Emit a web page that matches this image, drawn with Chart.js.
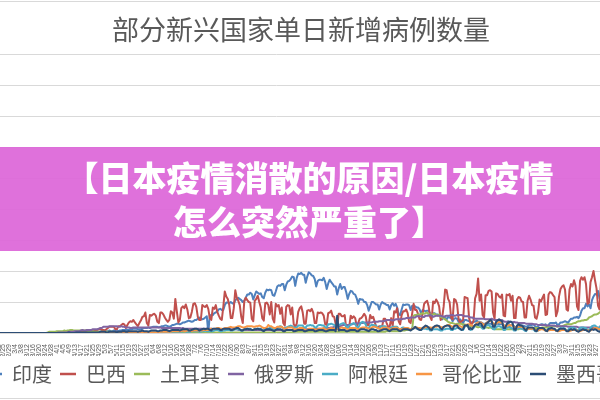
<!DOCTYPE html>
<html><head><meta charset="utf-8">
<script src="https://cdn.jsdelivr.net/npm/chart.js@4/dist/chart.umd.min.js"></script>
<style>
html,body{margin:0;padding:0;width:600px;height:400px;overflow:hidden;background:#fff;}
#wrap{position:absolute;left:-51px;top:0;width:704px;height:400px;}
#banner{position:absolute;left:0;top:147px;width:600px;height:104px;background:rgba(221,104,217,0.94);color:#fff;
 font-family:"Noto Sans CJK SC";font-weight:900;font-size:34px;line-height:44px;text-align:center;box-sizing:border-box;padding:8px 0 0 18px;white-space:nowrap;}
.frame{position:absolute;left:0;width:600px;height:1px;background:#d9d9d9;}
</style></head><body>
<div class="frame" style="top:1px"></div>
<div id="wrap"><canvas id="c" width="704" height="400"></canvas></div>
<div id="banner">【日本疫情消散的原因/日本疫情<br>怎么突然严重了】</div>
<div class="frame" style="top:398px"></div>
<script>
// Daily new cases, thousands. Index 0 = 2020-01-22, one value per day to 2021-03-30.
const titleText = '部分新兴国家单日新增病例数量';
const startDate = '2020-01-22';
const seriesNames = ['印度','巴西','土耳其','俄罗斯','阿根廷','哥伦比亚','墨西哥'];
const seriesColors = ['#4F81BD','#C0504D','#9BBB59','#8064A2','#4BACC6','#F79646','#2C4D75'];

const india = [
0,0,0,0,0,0,0,0, 0,0,0,0,0,0,0,0, 0,0,0,0,0,0,0,0, 0,0,0,0,0,0,0,0,
0,0,0,0,0,0,0, 0,0,0,0,0,0,0, 0,0,0,0,0,0,0, 0,0,0,0,0,0,0, 0,0,0,0,0,0,0,
0,0,0,0,1,1,1, 1,1,1,1,1,1,1, 1,1,1,1,1,1,2, 2,1,2,1,2,2,2, 2,2,2,2,2,3,3,
3,3,3,4,3,3,4, 4,4,3,4,4,5,5, 5,5,5,6,6,7,7, 7,6,6,6,7,8,8, 8,9,8,9,10,10,10,
10,9,10,11,11,12,12, 11,10,11,13,13,14,15, 15,14,15,17,17,18,19, 20,19,18,19,21,21,23,
25,23,22,23,25,27,0, 29,28,29,32,33,35,38, 39,37,37,45,49,49,48, 50,48,47,53,55,57,55,
53,50,52,57,62,62,65, 63,54,61,67,65,63,64, 58,56,65,70,69,70,69, 61,60,67,75,77,76,79,
79,69,78,83,84,87,91, 90,76,89,96,95,97,94, 94,81,91,98,96,93,92, 87,75,84,86,86,85,89,
82,71,80,86,82,79,75, 75,62,72,79,71,74,74, 66,55,63,68,67,63,62, 56,47,55,54,54,50,50,
45,36,43,50,50,48,46, 46,38,46,50,48,47,45, 45,38,45,48,44,47,41, 30,29,38,46,45,46,46,
45,37,44,44,43,41,41, 38,31,37,36,35,36,36, 32,27,32,32,30,30,28, 27,22,26,24,22,26,25,
24,19,23,24,23,18,22, 19,16,21,21,20,19,18, 16,18,18,20,18,18,17, 16,12,16,17,15,15,15,
13,10,14,15,14,14,14, 13,9,12,19,11,13,13, 11,9,11,12,13,12,12, 11,10,11,13,13,13,14,
11,9,11,13,14,14,13, 14,10,13,16,16,16,16, 17,12,14,17,17,18,19, 18,16,20,23,23,25,25,
26,24,28,36,40,40,47, 43,46,40,53,59,63,62, 68,56,53];

const brazil = [
0,0,0,0,0,0,0,0, 0,0,0,0,0,0,0,0, 0,0,0,0,0,0,0,0, 0,0,0,0,0,0,0,0,
0,0,0,0,0,0,0, 0,0,0,0,0,0,0, 0,0,0,0,0,0,0, 0,0,0,0,0,0,0, 0,0,0,0,0,1,0,
0,0,1,1,1,1,1, 1,1,1,2,2,1,1, 1,1,2,2,3,3,3, 1,1,3,3,3,4,4, 3,4,5,6,7,5,5,
4,6,8,10,10,10,10, 6,6,11,11,13,15,14, 8,13,17,19,18,21,17, 14,11,16,20,26,27,33, 16,12,29,28,30,31,28,
18,16,33,33,30,25,21, 18,21,35,33,23,55,35, 17,21,40,43,40,46,38, 24,25,34,47,48,42,26,
21,21,45,43,42,45,39, 24,21,41,39,45,34,28, 23,21,42,67,59,55,45, 24,24,40,69,57,52,45,
26,16,51,57,53,50,49, 23,19,52,55,60,50,41, 24,20,48,49,45,30,50, 23,17,47,43,45,31,41,
16,12,42,45,44,30,41, 14,10,15,34,40,43,33, 15,15,36,37,35,39,33, 16,16,33,32,33,32,28,
14,13,32,33,36,27,26, 14,10,31,31,27,27,29, 8,9,10,28,24,27,24, 11,16,23,24,27,31,27,
13,13,29,24,26,18,10, 9,11,11,11,23,23,16, 10,10,24,11,35,33,40, 19,14,29,35,35,38,32,
18,16,31,47,37,37,30, 22,21,31,47,50,52,43, 26,21,51,48,54,50,43, 21,25,42,70,69,55,50,
25,22,55,53,46,22,17, 19,21,58,57,56,24,15, 15,20,56,63,88,52,62, 29,25,61,61,68,69,67,
33,23,64,63,59,57,62, 28,27,62,61,63,52,60, 24,24,54,58,57,51,50, 25,25,52,60,54,45,44,
25,23,33,54,51,57,62, 29,30,62,66,65,61,58, 27,35,59,71,75,77,70, 38,36,70,79,75,85,76,
43,37,84,90,86,90,79, 47,49,82,90,100,85,72, 44,38,84];

const turkey = [
0,0,0,0,0,0,0,0, 0,0,0,0,0,0,0,0, 0,0,0,0,0,0,0,0, 0,0,0,0,0,0,0,0,
0,0,0,0,0,0,0, 0,0,0,0,0,0,0, 0,0,0,0,0,0,0, 0,0,0,0,0,0,0, 0,0,0,0,1,2,2,
2,2,2,3,3,3,3, 3,4,3,4,4,5,5, 4,4,4,4,4,4,4, 4,4,4,3,3,3,3, 2,2,2,2,2,2,2,
2,2,2,2,2,2,1, 1,1,1,1,1,1,1, 1,1,1,1,1,1,1, 1,1,1,1,1,1,1, 1,1,1,1,1,1,1,
1,1,1,1,1,2,2, 2,2,1,1,1,1,1, 1,1,1,1,1,1,1, 1,1,1,1,1,1,1,
1,1,1,1,1,1,1, 1,1,1,1,1,1,1, 1,1,1,1,1,1,1, 1,1,1,1,1,1,1,
1,1,1,1,1,1,1, 1,1,1,1,1,1,1, 1,1,1,1,1,1,1, 1,1,1,1,1,1,1,
1,1,1,1,1,1,1, 2,2,2,2,2,2,2, 2,2,2,2,2,2,2, 2,2,2,2,2,2,2,
2,2,2,2,2,2,2, 2,2,2,2,2,2,2, 2,2,2,2,2,2,2, 2,2,2,2,2,2,2,
2,2,2,2,2,2,2, 2,2,2,2,2,2,3, 3,3,3,3,3,3,3, 3,3,4,4,4,5,5,
5,5,6,28,29,29,30, 30,31,32,31,32,33,30, 30,29,30,31,29,28,30, 26,25,24,22,20,18,17,
16,16,15,14,15,15,15, 15,13,14,13,11,11,11, 11,11,11,10,9,10,9, 9,9,9,9,8,9,8,
7,6,6,6,6,6,6, 6,6,6,6,6,6,6, 6,6,6,6,7,7,7, 7,7,7,8,8,8,8,
8,8,8,8,8,9,9, 9,9,10,11,11,11,11, 11,10,11,11,11,12,13, 14,14,14,14,15,16,16,
18,19,19,20,20,21,21, 22,25,26,27,29,30,30, 31,33,35];

const russia = [
0,0,0,0,0,0,0,0, 0,0,0,0,0,0,0,0, 0,0,0,0,0,0,0,0, 0,0,0,0,0,0,0,0,
0,0,0,0,0,0,0, 0,0,0,0,0,0,0, 0,0,0,0,0,0,0, 0,0,0,0,0,0,0, 0,0,0,0,0,0,0,
0,0,0,0,1,1,1, 1,1,1,1,2,2,2, 2,3,3,3,3,4,5, 4,4,5,5,5,5,6, 6,6,6,7,8,8,10,
10,10,10,11,11,11,11, 11,11,10,10,11,10,10, 9,9,9,8,8,9,9, 9,9,9,9,9,9,9, 9,9,9,9,9,9,9,
9,9,9,8,8,8,8, 8,8,8,8,8,8,8, 8,8,7,8,7,7,7, 7,7,7,7,7,7,7,
7,7,7,7,7,7,7, 7,7,6,6,6,6,6, 6,6,6,6,6,6,6, 6,6,6,6,6,5,5,
5,5,5,5,5,5,5, 5,5,5,5,5,5,5, 5,5,5,5,5,5,5, 5,5,5,5,5,5,5,
5,5,5,5,5,5,5, 5,5,5,5,5,5,6, 6,6,6,6,6,6,6, 6,7,7,7,7,7,7,
8,8,8,8,9,9,10, 10,11,11,11,12,13,13, 13,13,13,14,14,15,15, 16,15,16,16,16,17,17,
17,17,17,17,18,18,18, 18,19,19,19,19,20,21, 21,21,21,20,21,22,22, 22,22,22,23,23,24,24,
24,25,25,25,25,27,27, 27,27,26,26,28,28,28, 29,28,26,27,28,28,28, 28,27,26,27,28,28,28,
29,29,28,28,29,29,29, 29,28,27,27,27,26,25, 25,24,23,23,23,23,23, 23,23,22,22,22,22,23,
22,21,21,21,21,21,21, 19,18,18,18,18,18,17, 18,17,17,16,16,16,16, 16,15,15,15,15,15,14,
14,14,13,13,13,13,13, 12,12,12,12,12,12,12, 11,11,11,11,11,11,11, 11,10,10,10,10,10,10,
10,9,9,9,9,9,9, 9,9,9,9,9,9,8, 9,8,8];

const argentina = [
0,0,0,0,0,0,0,0, 0,0,0,0,0,0,0,0, 0,0,0,0,0,0,0,0, 0,0,0,0,0,0,0,0,
0,0,0,0,0,0,0, 0,0,0,0,0,0,0, 0,0,0,0,0,0,0, 0,0,0,0,0,0,0, 0,0,0,0,0,0,0,
0,0,0,0,0,0,0, 0,0,0,0,0,0,0, 0,0,0,0,0,0,0, 0,0,0,0,0,0,0, 0,0,0,0,0,0,0,
0,0,0,0,0,0,0, 0,0,0,0,0,0,1, 0,0,0,0,1,1,1, 1,1,1,1,1,1,1, 1,1,1,1,1,1,1,
1,1,1,1,1,2,1, 1,1,1,2,2,2,2, 2,2,2,3,3,2,2, 2,2,3,3,3,3,3,
2,2,3,3,4,3,3, 3,3,3,4,5,5,4, 3,3,4,4,5,5,5, 4,4,5,6,6,6,5,
4,4,6,6,7,7,7, 5,5,7,7,7,7,7, 5,4,6,7,7,8,8, 6,6,8,8,10,11,10,
7,8,9,10,11,12,11, 9,9,9,12,12,12,12, 8,9,12,12,13,12,12, 9,9,12,13,13,12,12,
9,9,14,14,15,14,13, 10,9,13,14,15,16,15, 10,8,12,13,15,16,14, 10,9,13,17,18,16,14,
7,8,12,13,13,12,12, 8,7,11,11,11,11,9, 6,6,9,10,10,10,10, 6,5,8,9,8,8,8,
5,5,8,9,8,7,7, 5,5,7,7,7,6,7, 4,4,6,6,6,6,5, 4,4,6,6,7,7,7,
5,5,7,7,9,8,6, 5,5,10,11,12,7,5, 6,8,13,14,13,12,11, 7,7,11,13,13,11,10,
6,6,9,11,11,10,9, 5,5,8,10,9,8,7, 4,4,7,8,8,7,6, 4,3,6,7,7,6,6,
3,3,4,6,7,7,6, 4,4,7,8,8,7,6, 4,4,6,8,7,8,7, 4,5,8,8,9,8,7,
5,5,8,9,9,8,8, 5,5,8,11,12,12,10, 7,9,13];

const colombia = [
0,0,0,0,0,0,0,0, 0,0,0,0,0,0,0,0, 0,0,0,0,0,0,0,0, 0,0,0,0,0,0,0,0,
0,0,0,0,0,0,0, 0,0,0,0,0,0,0, 0,0,0,0,0,0,0, 0,0,0,0,0,0,0, 0,0,0,0,0,0,0,
0,0,0,0,0,0,0, 0,0,0,0,0,0,0, 0,0,0,0,0,0,0, 0,0,0,0,0,0,0, 0,0,0,0,0,0,0,
0,0,0,0,0,0,1, 1,1,0,0,1,1,1, 1,1,1,1,1,1,1, 1,1,1,1,1,1,1, 1,1,1,1,1,1,1,
1,1,2,2,2,2,2, 2,2,2,3,3,3,3, 3,3,3,4,3,3,4, 4,4,3,4,4,4,4,
4,4,4,5,5,5,5, 6,7,6,7,7,8,8, 7,7,6,8,8,8,9, 10,9,9,9,10,11,11,
10,9,9,10,11,11,11, 11,10,10,11,11,12,11, 9,8,8,9,13,11,11, 9,8,8,10,10,10,10,
8,7,7,9,9,9,9, 7,6,6,7,8,8,8, 6,5,5,7,7,7,7, 6,5,6,7,7,7,8,
6,5,6,7,8,7,7, 7,6,6,8,9,8,8, 7,6,6,8,8,8,8, 7,6,7,8,9,9,9,
8,7,7,9,10,10,9, 8,7,6,8,9,8,9, 7,6,6,8,8,9,8, 7,6,6,7,8,8,8,
7,6,7,8,9,9,8, 8,7,8,9,9,10,9, 9,8,9,10,10,11,11, 10,9,9,11,12,13,13,
11,10,11,13,13,12,11, 10,9,11,13,14,14,13, 12,11,13,16,17,17,17, 15,13,15,17,19,20,18,
16,14,15,17,18,17,16, 13,11,11,12,13,12,12, 10,8,9,10,10,10,9, 7,6,6,7,7,7,7,
5,5,4,5,6,6,5, 4,4,4,5,5,5,5, 4,3,3,4,5,5,5, 4,3,3,4,5,5,5,
4,3,3,4,5,5,5, 4,4,4,6,7,8,8, 7,6,7];

const mexico = [
0,0,0,0,0,0,0,0, 0,0,0,0,0,0,0,0, 0,0,0,0,0,0,0,0, 0,0,0,0,0,0,0,0,
0,0,0,0,0,0,0, 0,0,0,0,0,0,0, 0,0,0,0,0,0,0, 0,0,0,0,0,0,0, 0,0,0,0,0,0,0,
0,0,0,0,0,0,0, 0,0,0,0,1,0,0, 0,0,1,1,1,1,1, 1,1,1,1,1,1,1, 1,1,1,1,2,2,2,
2,1,1,2,2,2,2, 2,1,2,2,2,3,3, 2,2,3,3,3,3,3, 3,2,3,3,4,3,3, 3,2,3,4,4,4,4,
3,3,4,4,5,5,5, 4,3,4,5,5,5,5, 5,4,5,6,6,6,6, 4,4,5,6,7,7,6,
4,5,6,7,6,7,7, 5,4,7,7,7,7,7, 5,5,7,7,7,7,7, 5,5,6,7,8,8,6,
4,4,6,6,7,6,6, 5,5,6,6,7,6,6, 4,3,5,6,6,6,5, 4,3,5,6,6,6,5,
3,3,5,5,5,5,5, 3,3,4,5,5,5,5, 3,3,4,5,5,5,5, 3,3,4,5,5,5,4,
3,3,4,5,5,5,5, 3,28,4,5,5,5,5, 3,3,4,5,5,5,5, 3,3,5,6,6,6,5,
4,3,5,6,6,5,5, 3,3,4,5,6,6,6, 4,3,5,6,6,6,6, 4,3,4,6,6,6,6,
5,4,6,7,10,8,6, 5,5,8,10,12,11,9, 6,5,9,11,12,12,11, 7,6,10,11,12,12,11,
7,6,11,12,12,8,7, 5,6,12,12,13,6,8, 6,10,13,14,13,16,15, 10,8,14,16,18,21,20,
10,10,18,20,22,20,19, 8,8,14,17,18,18,16, 6,5,12,14,12,12,10, 6,4,8,9,9,9,8,
4,3,7,8,8,8,7, 4,3,7,7,8,7,7, 4,3,6,7,7,7,6, 3,3,5,6,5,6,5,
3,2,4,5,6,5,5, 3,2,5,6,5,6,5, 3,2,4];

const seriesValues = [india, brazil, turkey, russia, argentina, colombia, mexico];

// Category labels (dates, m/d), one per day
const dateLabels = [];
(function(){
  const d0 = new Date(startDate + 'T00:00:00Z');
  for (let i = 0; i < india.length; i++) {
    const d = new Date(d0.getTime() + i * 86400000);
    dateLabels.push((d.getUTCMonth() + 1) + '/' + d.getUTCDate());
  }
})();

const cjk = '"Noto Sans CJK SC", "Noto Sans", sans-serif';

const datasets = seriesNames.map((name, i) => ({
  label: name,
  data: seriesValues[i],
  borderColor: seriesColors[i],
  backgroundColor: seriesColors[i],
  borderWidth: 2,
  pointRadius: 0,
  pointHoverRadius: 0,
  pointStyle: 'line',
  tension: 0,
  fill: false,
  borderJoinStyle: 'round',
  order: seriesNames.length - i
}));

const chart = new Chart(document.getElementById('c'), {
  type: 'line',
  data: { labels: dateLabels, datasets: datasets },
  options: {
    responsive: false,
    animation: false,
    layout: { padding: { top: 0, bottom: 6, left: 0, right: 0 } },
    plugins: {
      title: {
        display: true, text: titleText, color: '#595959',
        font: { family: cjk, size: 27, weight: 'normal' },
        padding: { top: 13.8, bottom: 7.8 }
      },
      legend: {
        position: 'bottom',
        labels: {
          usePointStyle: true, pointStyleWidth: 16, padding: 8, color: '#595959',
          font: { family: cjk, size: 20 },
          sort: (a, b) => a.datasetIndex - b.datasetIndex,
          generateLabels: (c) => Chart.defaults.plugins.legend.labels.generateLabels(c).map(l => Object.assign(l, { lineWidth: 2.5 }))
        }
      },
      tooltip: { enabled: false }
    },
    scales: {
      x: {
        grid: { display: false },
        border: { display: false },
        ticks: {
          autoSkip: false, maxRotation: 90, minRotation: 90, padding: 3, color: '#595959',
          font: { family: '"Liberation Sans", sans-serif', size: 7 },
          callback: function (v, i) { return (i - 2) % 4 === 0 ? this.getLabelForValue(v) : ''; }
        },
        afterFit: (a) => { a.height = 23; }
      },
      y: {
        min: 0, max: 450,
        ticks: { display: false, stepSize: 50 },
        grid: { color: '#d9d9d9', lineWidth: 1, drawTicks: false },
        border: { display: false },
        afterFit: (a) => { a.width = 2; }
      },
      y2: {
        position: 'right', min: 0, max: 450,
        ticks: { display: false },
        grid: { display: false, drawTicks: false },
        border: { display: false },
        afterFit: (a) => { a.width = 52; }
      }
    }
  }
});

const bad = seriesValues.map((s, i) => seriesNames[i] + ':' + s.length).filter((t, i) => seriesValues[i].length !== india.length);
if (bad.length) { throw new Error('length mismatch ' + india.length + ' ' + bad.join(',')); }
</script>
</body></html>
